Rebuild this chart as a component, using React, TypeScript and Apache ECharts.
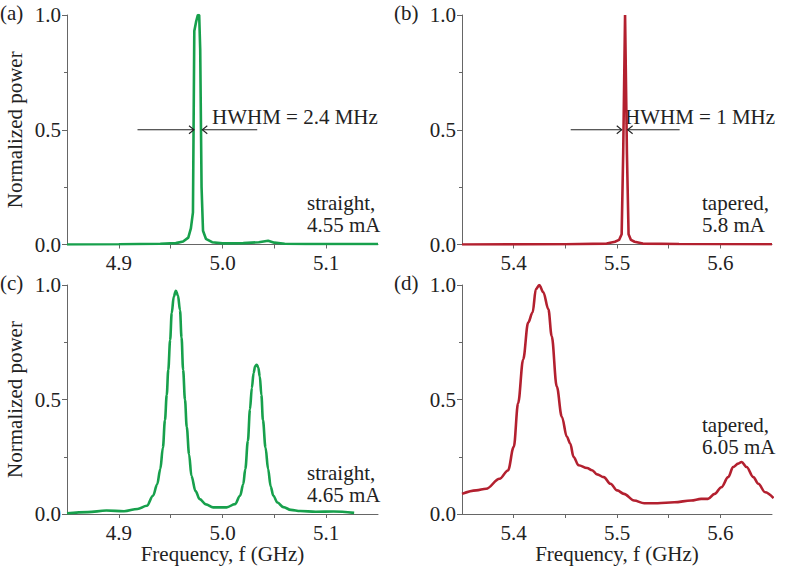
import React, { useEffect, useRef } from "react";
import * as echarts from "echarts";

// Panel (a): straight, 4.55 mA
const FREQ_A = [4.85, 4.9, 4.94, 4.955, 4.962, 4.967, 4.9695, 4.9715, 4.9728, 4.9745, 4.9762, 4.9775, 4.9785, 4.9798, 4.9812, 4.984, 4.99, 5.0, 5.02, 5.035, 5.044, 5.05, 5.06, 5.08, 5.15];
const POWER_A = [0.0, 0.001, 0.003, 0.006, 0.013, 0.03, 0.07, 0.14, 0.93, 0.97, 1.0, 1.0, 0.85, 0.25, 0.06, 0.025, 0.01, 0.005, 0.006, 0.01, 0.016, 0.008, 0.003, 0.002, 0.002];

// Panel (b): tapered, 5.8 mA
const FREQ_B = [5.35, 5.45, 5.49, 5.498, 5.502, 5.5045, 5.506, 5.5078, 5.5096, 5.5112, 5.5135, 5.517, 5.525, 5.56, 5.65];
const POWER_B = [0.0, 0.001, 0.004, 0.012, 0.02, 0.045, 0.4, 1.0, 0.4, 0.045, 0.02, 0.012, 0.004, 0.002, 0.001];

// Panel (c): straight, 4.65 mA
const FREQ_C = [4.85, 4.87, 4.888, 4.905, 4.918, 4.927, 4.933, 4.937, 4.94, 4.9425, 4.9445, 4.9462, 4.9477, 4.9495, 4.951, 4.953, 4.955, 4.957, 4.959, 4.9605, 4.962, 4.9638, 4.9655, 4.9678, 4.97, 4.974, 4.978, 4.984, 4.991, 5.004, 5.012, 5.017, 5.02, 5.022, 5.0245, 5.0265, 5.0283, 5.03, 5.0315, 5.033, 5.0345, 5.036, 5.0375, 5.039, 5.0415, 5.044, 5.0465, 5.049, 5.053, 5.0587, 5.066, 5.075, 5.09, 5.107, 5.127];
const POWER_C = [0.003, 0.008, 0.015, 0.012, 0.022, 0.036, 0.08, 0.13, 0.196, 0.29, 0.41, 0.52, 0.63, 0.76, 0.877, 0.95, 0.975, 0.955, 0.89, 0.77, 0.63, 0.5, 0.38, 0.26, 0.167, 0.1, 0.065, 0.042, 0.029, 0.029, 0.043, 0.08, 0.13, 0.196, 0.32, 0.457, 0.55, 0.616, 0.645, 0.652, 0.64, 0.6, 0.52, 0.41, 0.29, 0.196, 0.12, 0.08, 0.05, 0.03, 0.018, 0.013, 0.01, 0.011, 0.005];

// Panel (d): tapered, 6.05 mA
const FREQ_D = [5.35, 5.3637, 5.3734, 5.3864, 5.3945, 5.4001, 5.4043, 5.4092, 5.414, 5.4183, 5.4215, 5.4248, 5.4287, 5.4336, 5.4368, 5.4417, 5.4466, 5.4515, 5.4547, 5.458, 5.4628, 5.471, 5.4759, 5.4807, 5.4872, 5.4937, 5.5002, 5.5067, 5.5165, 5.5263, 5.5393, 5.5555, 5.5718, 5.5815, 5.588, 5.5945, 5.601, 5.6076, 5.6124, 5.6173, 5.6206, 5.6254, 5.6319, 5.6368, 5.6433, 5.6515];
const POWER_D = [0.088, 0.103, 0.11, 0.154, 0.19, 0.293, 0.484, 0.675, 0.836, 0.88, 0.982, 1.0, 0.968, 0.894, 0.777, 0.557, 0.425, 0.337, 0.308, 0.249, 0.213, 0.201, 0.191, 0.173, 0.161, 0.132, 0.103, 0.088, 0.059, 0.047, 0.047, 0.051, 0.059, 0.066, 0.066, 0.088, 0.117, 0.161, 0.205, 0.22, 0.227, 0.205, 0.161, 0.132, 0.095, 0.069];

const Y_TICKS = [0, 0.5, 1.0];
const PANEL_LETTERS = ["(a)", "(b)", "(c)", "(d)"];
const PANEL_NOTES = [["straight,", "4.55 mA"], ["tapered,", "5.8 mA"], ["straight,", "4.65 mA"], ["tapered,", "6.05 mA"]];
const HWHM_TEXT = ["HWHM = 2.4 MHz", "HWHM = 1 MHz"];
// arrows: [panel, level, left arrow from, left arrow to, right arrow from, right arrow to]
const HWHM_ARROWS = [
  [0, 0.5, 4.918, 4.9725, 5.0335, 4.9805],
  [1, 0.5, 5.4552, 5.5046, 5.5606, 5.5103],
];

const GREEN = "#17a04c";
const RED = "#b3202f";
const AXIS_COLOR = "#666";
const FONT = "Liberation Serif";
const FS = 21;

export default function App() {
  const ref = useRef<HTMLDivElement>(null);
  useEffect(() => {
    if (!ref.current) return;
    const chart = echarts.init(ref.current, null, { renderer: "svg" });
    const grids = [
      { left: 67, top: 15, width: 311, height: 229.5 },
      { left: 462, top: 15, width: 310, height: 229.5 },
      { left: 67, top: 285, width: 311, height: 229 },
      { left: 462, top: 285, width: 310, height: 229 },
    ];
    const ranges = [[4.85, 5.15], [5.35, 5.65], [4.85, 5.15], [5.35, 5.65]];
    const xAxes = grids.map((g, i) => ({
      type: "value",
      gridIndex: i,
      min: ranges[i][0],
      max: ranges[i][1],
      interval: 0.05,
      name: i >= 2 ? "Frequency, f (GHz)" : "",
      nameLocation: "middle",
      nameGap: 27,
      nameTextStyle: { fontFamily: FONT, fontSize: FS, color: "#222", verticalAlign: "top" },
      axisLine: { show: true, lineStyle: { color: AXIS_COLOR, width: 1 } },
      axisTick: { show: true, inside: false, length: 4, lineStyle: { color: AXIS_COLOR } },
      splitLine: { show: false },
      axisLabel: {
        margin: 8,
        fontFamily: FONT,
        fontSize: FS,
        color: "#222",
        showMinLabel: false,
        showMaxLabel: false,
        formatter: (v: number) => (Math.round(v * 100) % 10 === 0 ? v.toFixed(1) : ""),
      },
    }));
    const yAxes = grids.map((g, i) => ({
      type: "value",
      gridIndex: i,
      min: Y_TICKS[0],
      max: Y_TICKS[Y_TICKS.length - 1],
      interval: 0.5,
      name: i % 2 === 0 ? "Normalized power" : "",
      nameLocation: "middle",
      nameGap: 42,
      nameTextStyle: { fontFamily: FONT, fontSize: FS, color: "#222" },
      axisLine: { show: true, lineStyle: { color: AXIS_COLOR, width: 1 } },
      axisTick: { show: true, inside: false, length: 5, lineStyle: { color: AXIS_COLOR } },
      minorTick: { show: true, splitNumber: 2, length: 3, lineStyle: { color: AXIS_COLOR } },
      splitLine: { show: false },
      axisLabel: { margin: 6, fontFamily: FONT, fontSize: FS, color: "#222", formatter: (v: number) => v.toFixed(1) },
    }));
    const datasets = [
      [FREQ_A, POWER_A, GREEN],
      [FREQ_B, POWER_B, RED],
      [FREQ_C, POWER_C, GREEN],
      [FREQ_D, POWER_D, RED],
    ] as [number[], number[], string][];
    const series = datasets.map(([f, p, c], i) => ({
      type: "line",
      xAxisIndex: i,
      yAxisIndex: i,
      data: f.map((x, k) => [x, p[k]]),
      showSymbol: false,
      smooth: i >= 2 ? 0.35 : false,
      smoothMonotone: "x",
      lineStyle: { color: c, width: 2.6 },
      z: 3,
    }));
    chart.setOption({
      animation: false,
      backgroundColor: "#fff",
      textStyle: { fontFamily: FONT },
      grid: grids.map((g) => ({ ...g, containLabel: false })),
      xAxis: xAxes,
      yAxis: yAxes,
      series,
    });

    const textStyle = (txt: string) => ({ text: txt, fill: "#222", fontFamily: FONT, fontSize: FS });
    const elements: any[] = [];
    const letterPos = [[0, 12.5], [394, 12.5], [0, 283], [394, 283]];
    PANEL_LETTERS.forEach((t, i) => {
      elements.push({ type: "text", x: letterPos[i][0], y: letterPos[i][1], style: { ...textStyle(t), verticalAlign: "middle" } });
    });
    const notePos = [[307, 203], [702, 203], [307, 473], [702, 425]];
    PANEL_NOTES.forEach((lines, i) => {
      lines.forEach((t, k) => {
        elements.push({ type: "text", x: notePos[i][0], y: notePos[i][1] + k * 22, style: { ...textStyle(t), verticalAlign: "middle" } });
      });
    });
    const hwhmPos = [[212, 117], [625, 117]];
    HWHM_TEXT.forEach((t, i) => {
      elements.push({ type: "text", x: hwhmPos[i][0], y: hwhmPos[i][1], style: { ...textStyle(t), verticalAlign: "middle" } });
    });
    const arrowStyle = { stroke: "#222", lineWidth: 1.1, fill: "none" };
    HWHM_ARROWS.forEach(([panel, level, lf, lt, rf, rt]) => {
      const p = (x: number) => chart.convertToPixel({ gridIndex: panel }, [x, level]) as number[];
      const pairs = [[p(lf), p(lt)], [p(rf), p(rt)]];
      pairs.forEach(([a, b]) => {
        const dir = b[0] > a[0] ? 1 : -1;
        elements.push({ type: "line", shape: { x1: a[0], y1: a[1], x2: b[0], y2: b[1] }, style: arrowStyle, z: 10 });
        elements.push({
          type: "polyline",
          shape: { points: [[b[0] - dir * 5, b[1] - 4], [b[0], b[1]], [b[0] - dir * 5, b[1] + 4]] },
          style: arrowStyle,
          z: 10,
        });
      });
    });
    chart.setOption({ graphic: { elements } });
    return () => chart.dispose();
  }, []);
  return <div ref={ref} style={{ position: "fixed", left: 0, top: 0, width: 787, height: 566, background: "#fff" }} />;
}
